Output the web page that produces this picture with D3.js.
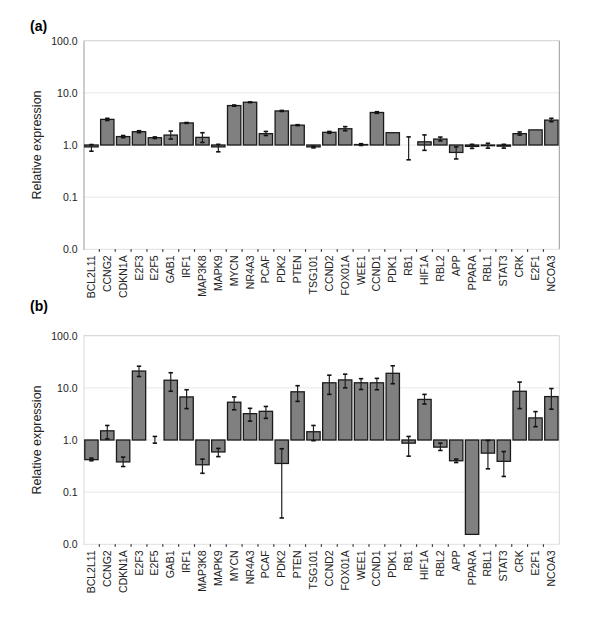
<!DOCTYPE html>
<html>
<head>
<meta charset="utf-8">
<script src="https://cdn.jsdelivr.net/npm/d3@7"></script>
<style>
  body { margin: 0; background: white; }
  text { font-family: "Liberation Sans", Arial, sans-serif; }
</style>
</head>
<body>
<svg id="chart"></svg>
<script>
var genes = ["BCL2L11","CCNG2","CDKN1A","E2F3","E2F5","GAB1","IRF1","MAP3K8","MAPK9","MYCN",
             "NR4A3","PCAF","PDK2","PTEN","TSG101","CCND2","FOX01A","WEE1","CCND1","PDK1",
             "RB1","HIF1A","RBL2","APP","PPARA","RBL1","STAT3","CRK","E2F1","NCOA3"];

// panel (a)
var valuesA = [0.92,3.1,1.45,1.8,1.38,1.55,2.65,1.4,0.92,5.7,
               6.6,1.65,4.5,2.4,0.92,1.75,2.05,1.02,4.2,1.72,
               1.0,1.15,1.3,0.72,0.94,0.97,0.95,1.65,1.95,3.0];
var lowA  = [0.76,2.95,1.38,1.72,1.33,1.3,2.6,1.12,0.74,5.55,
             6.5,1.52,4.4,2.35,0.88,1.68,1.88,0.98,4.05,null,
             0.52,0.79,1.2,0.54,0.86,0.87,0.87,1.55,null,2.8];
var highA = [1.02,3.25,1.52,1.88,1.43,1.85,2.7,1.72,1.03,5.85,
             6.7,1.82,4.6,2.45,0.95,1.82,2.25,1.06,4.35,null,
             1.43,1.56,1.42,0.92,1.03,1.08,1.03,1.78,null,3.25];

// panel (b)
var valuesB = [0.42,1.5,0.38,21,1.0,14,6.7,0.335,0.59,5.3,
               3.2,3.55,0.355,8.4,1.44,12.5,14.2,12.5,12.5,19,
               0.87,6.0,0.73,0.4,0.0155,0.56,0.39,8.6,2.65,6.8];
var lowB  = [0.40,1.05,0.31,16.5,0.87,8.6,4.0,0.23,0.48,3.8,
             2.3,2.6,0.032,5.5,0.97,7.5,10,9.3,9.2,12,
             0.49,4.9,0.63,0.37,null,0.28,0.2,4.0,1.8,3.9];
var highB = [0.45,1.9,0.47,26,1.17,19.5,9.2,0.43,0.69,6.7,
             4.05,4.4,0.68,11,1.9,17.5,18.3,15,15.2,26.5,
             1.17,7.5,0.87,0.43,null,0.98,0.6,12.9,3.5,9.7];

var yTicks = [0.01,0.1,1,10,100];

var svg = d3.select("#chart").attr("width", 600).attr("height", 621);

var drawPanel = function(label, labelY, values, low, high, top, axisColor)
{
  var plotLeft = 83.5, plotRight = 559.3;
  var plotTop = top, plotBottom = top + 208.6;

  var x = d3.scaleBand()
            .domain(genes)
            .range([plotLeft, plotRight])
            .paddingInner(0.16)
            .paddingOuter(0.08);

  var y = d3.scaleLog()
            .domain([0.01, 100])
            .range([plotBottom, plotTop]);

  var g = svg.append("g");

  // panel label
  g.append("text")
   .attr("x", 30).attr("y", labelY)
   .attr("font-size", 14).attr("font-weight", "bold")
   .text(label);

  // grid lines
  g.selectAll(".grid")
   .data([0.1, 1, 10])
   .enter().append("line")
   .attr("x1", plotLeft).attr("x2", plotRight)
   .attr("y1", function(d){return y(d);})
   .attr("y2", function(d){return y(d);})
   .style("stroke", "#e8e8e8");

  // box
  g.append("line").attr("x1", plotLeft).attr("x2", plotRight)
   .attr("y1", plotTop).attr("y2", plotTop).style("stroke", "#d0d0d0");
  g.append("line").attr("x1", plotRight).attr("x2", plotRight)
   .attr("y1", plotTop).attr("y2", plotBottom).style("stroke", axisColor);
  g.append("line").attr("x1", plotLeft).attr("x2", plotRight)
   .attr("y1", plotBottom).attr("y2", plotBottom).style("stroke", "#e0e0e0");

  // y axis
  var yAxis = d3.axisLeft(y)
                .tickValues(yTicks)
                .tickFormat(d3.format(".1f"))
                .tickSize(0)
                .tickPadding(6);
  var ya = g.append("g")
            .attr("transform", "translate(" + plotLeft + ",0)")
            .call(yAxis);
  ya.select(".domain").style("stroke", axisColor);
  ya.selectAll("text").attr("font-size", 10.5).attr("fill", "#222")
    .style("font-family", "Liberation Sans, Arial, sans-serif");

  g.append("text")
   .attr("transform", "translate(41," + ((plotTop + plotBottom) / 2) + ") rotate(-90)")
   .attr("text-anchor", "middle")
   .attr("font-size", 12.5)
   .attr("fill", "#222")
   .text("Relative expression");

  // x ticks between categories
  var step = x.step();
  g.selectAll(".xtick")
   .data(genes.slice(1))
   .enter().append("line")
   .attr("x1", function(d){return x(d) - step * 0.08;})
   .attr("x2", function(d){return x(d) - step * 0.08;})
   .attr("y1", plotBottom).attr("y2", plotBottom + 2.5)
   .style("stroke", "#333").style("stroke-width", 1.2);

  // x labels
  g.selectAll(".xlab")
   .data(genes)
   .enter().append("text")
   .attr("transform", function(d){
      return "translate(" + (x(d) + x.bandwidth() / 2 + 3.5) + "," + (plotBottom + 6) + ") rotate(-90)";
   })
   .attr("text-anchor", "end")
   .attr("font-size", 10.5)
   .attr("fill", "#222")
   .text(function(d){return d;});

  // bars from the 1.0 baseline
  g.selectAll(".bar")
   .data(genes)
   .enter().append("rect")
   .attr("x", function(d){return x(d);})
   .attr("width", x.bandwidth())
   .attr("y", function(d, i){return y(Math.max(values[i], 1));})
   .attr("height", function(d, i){return Math.abs(y(values[i]) - y(1));})
   .attr("fill", "#808080")
   .style("stroke", "#1a1a1a")
   .style("stroke-width", 1.3);

  // error bars
  var errs = genes.map(function(d, i){
    return {gene: d, lo: low[i], hi: high[i]};
  }).filter(function(e){return e.lo !== null;});

  var cap = 2.2;
  var eg = g.selectAll(".err").data(errs).enter().append("g");
  eg.append("line")
    .attr("x1", function(e){return x(e.gene) + x.bandwidth() / 2;})
    .attr("x2", function(e){return x(e.gene) + x.bandwidth() / 2;})
    .attr("y1", function(e){return y(e.lo);})
    .attr("y2", function(e){return y(e.hi);})
    .style("stroke", "#222").style("stroke-width", 1.2);
  eg.append("line")
    .attr("x1", function(e){return x(e.gene) + x.bandwidth() / 2 - cap;})
    .attr("x2", function(e){return x(e.gene) + x.bandwidth() / 2 + cap;})
    .attr("y1", function(e){return y(e.lo);})
    .attr("y2", function(e){return y(e.lo);})
    .style("stroke", "#111").style("stroke-width", 1.6);
  eg.append("line")
    .attr("x1", function(e){return x(e.gene) + x.bandwidth() / 2 - cap;})
    .attr("x2", function(e){return x(e.gene) + x.bandwidth() / 2 + cap;})
    .attr("y1", function(e){return y(e.hi);})
    .attr("y2", function(e){return y(e.hi);})
    .style("stroke", "#111").style("stroke-width", 1.6);
};

drawPanel("(a)", 31, valuesA, lowA, highA, 40.7, "#999");
drawPanel("(b)", 311, valuesB, lowB, highB, 335.7, "#d8d8d8");
</script>
</body>
</html>
